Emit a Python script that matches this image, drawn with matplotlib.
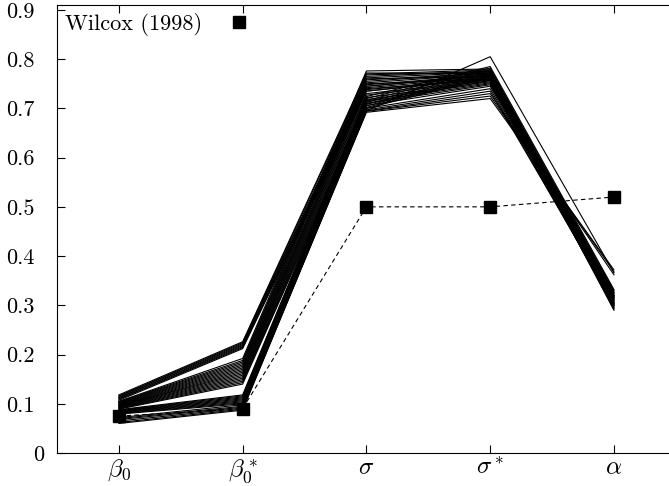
import numpy as np
import matplotlib.pyplot as plt
import matplotlib.transforms as mtransforms
from matplotlib.lines import Line2D

plt.rcParams['font.family'] = 'serif'
plt.rcParams['font.serif'] = ['cmr10']
plt.rcParams['mathtext.fontset'] = 'cm'
plt.rcParams['axes.unicode_minus'] = False

params = [r'$\beta_0$', r'$\beta_0^*$', r'$\sigma$', r'$\sigma^*$', r'$\alpha$']

# one entry per simulation run, read column-wise
beta0 = [0.118, 0.116, 0.115, 0.113, 0.112, 0.110, 0.109, 0.107,
         0.105, 0.104, 0.103, 0.102, 0.101, 0.100, 0.099, 0.098, 0.097,
         0.096, 0.096, 0.095, 0.094, 0.093, 0.092, 0.091, 0.090, 0.089,
         0.088, 0.087, 0.086, 0.085, 0.084, 0.083, 0.082, 0.081, 0.080, 0.079,
         0.072, 0.070, 0.068, 0.065, 0.062, 0.060]
beta0_star = [0.226, 0.224, 0.222, 0.220, 0.218, 0.216, 0.214, 0.212,
              0.192, 0.188, 0.185, 0.182, 0.179, 0.176, 0.173, 0.170, 0.167,
              0.164, 0.161, 0.158, 0.155, 0.152, 0.149, 0.146, 0.143, 0.140,
              0.118, 0.116, 0.114, 0.112, 0.110, 0.108, 0.106, 0.104, 0.102, 0.100,
              0.098, 0.095, 0.093, 0.091, 0.089, 0.087]
sigma = [0.772, 0.768, 0.760, 0.755, 0.750, 0.745, 0.740, 0.735,
         0.776, 0.770, 0.765, 0.762, 0.758, 0.752, 0.748, 0.745, 0.742,
         0.738, 0.735, 0.730, 0.727, 0.722, 0.718, 0.714, 0.710, 0.706,
         0.724, 0.720, 0.716, 0.712, 0.708, 0.705, 0.702, 0.700, 0.715, 0.710,
         0.700, 0.697, 0.695, 0.694, 0.692, 0.695]
sigma_star = [0.770, 0.775, 0.765, 0.772, 0.760, 0.768, 0.758, 0.763,
              0.780, 0.778, 0.776, 0.774, 0.772, 0.770, 0.768, 0.766, 0.764,
              0.762, 0.760, 0.758, 0.756, 0.754, 0.752, 0.750, 0.748, 0.745,
              0.785, 0.782, 0.779, 0.776, 0.773, 0.770, 0.767, 0.764, 0.760, 0.757,
              0.740, 0.735, 0.730, 0.725, 0.720, 0.805]
alpha = [0.318, 0.312, 0.325, 0.305, 0.320, 0.300, 0.315, 0.308,
         0.330, 0.326, 0.322, 0.318, 0.314, 0.310, 0.306, 0.302, 0.298,
         0.295, 0.292, 0.328, 0.316, 0.304, 0.296, 0.320, 0.310, 0.300,
         0.332, 0.324, 0.316, 0.308, 0.300, 0.294, 0.290, 0.312, 0.320, 0.304,
         0.300, 0.305, 0.362, 0.368, 0.372, 0.366]

wilcox = [0.075, 0.090, 0.500, 0.500, 0.520]

runs = np.array([beta0, beta0_star, sigma, sigma_star, alpha])
x = np.arange(len(params))

fig = plt.figure(figsize=(6.69, 4.86), dpi=100)
ax = fig.add_axes([0.0852, 0.0679, 0.925, 0.9218])

for i in range(runs.shape[1]):
    ax.plot(x, runs[:, i], color='black', lw=0.8)

ax.plot(x, wilcox, color='black', lw=0.8, ls=(0, (4, 3)),
        marker='s', markersize=8.5)

ax.set_xlim(-0.5, 4.5)
ax.set_ylim(0, 0.91)
ax.set_xticks(x)
ax.set_xticklabels(params)
yt = np.arange(0, 10) / 10
ax.set_yticks(yt)
ax.set_yticklabels(['0'] + ['%.1f' % v for v in yt[1:]])

ax.tick_params(axis='both', direction='in', length=6, width=0.8)
ax.tick_params(axis='x', top=True, pad=3, labelsize=18)
ax.tick_params(axis='y', pad=9, labelsize=16)
for s in ax.spines.values():
    s.set_linewidth(0.8)

# decimal labels sit a little further left than the zero label
shift = mtransforms.ScaledTranslation(-7 / 72, 0, fig.dpi_scale_trans)
for lab in ax.get_yticklabels()[1:]:
    lab.set_transform(lab.get_transform() + shift)

key = Line2D([], [], color='black', marker='s', markersize=8.5, ls='none')
ax.legend([key], ['Wilcox (1998)'], loc='upper left', frameon=False,
          markerfirst=False, handlelength=1.0, handletextpad=1.15,
          fontsize=16, borderaxespad=0.25, borderpad=0.1)

fig.savefig('out.png', dpi=100)
